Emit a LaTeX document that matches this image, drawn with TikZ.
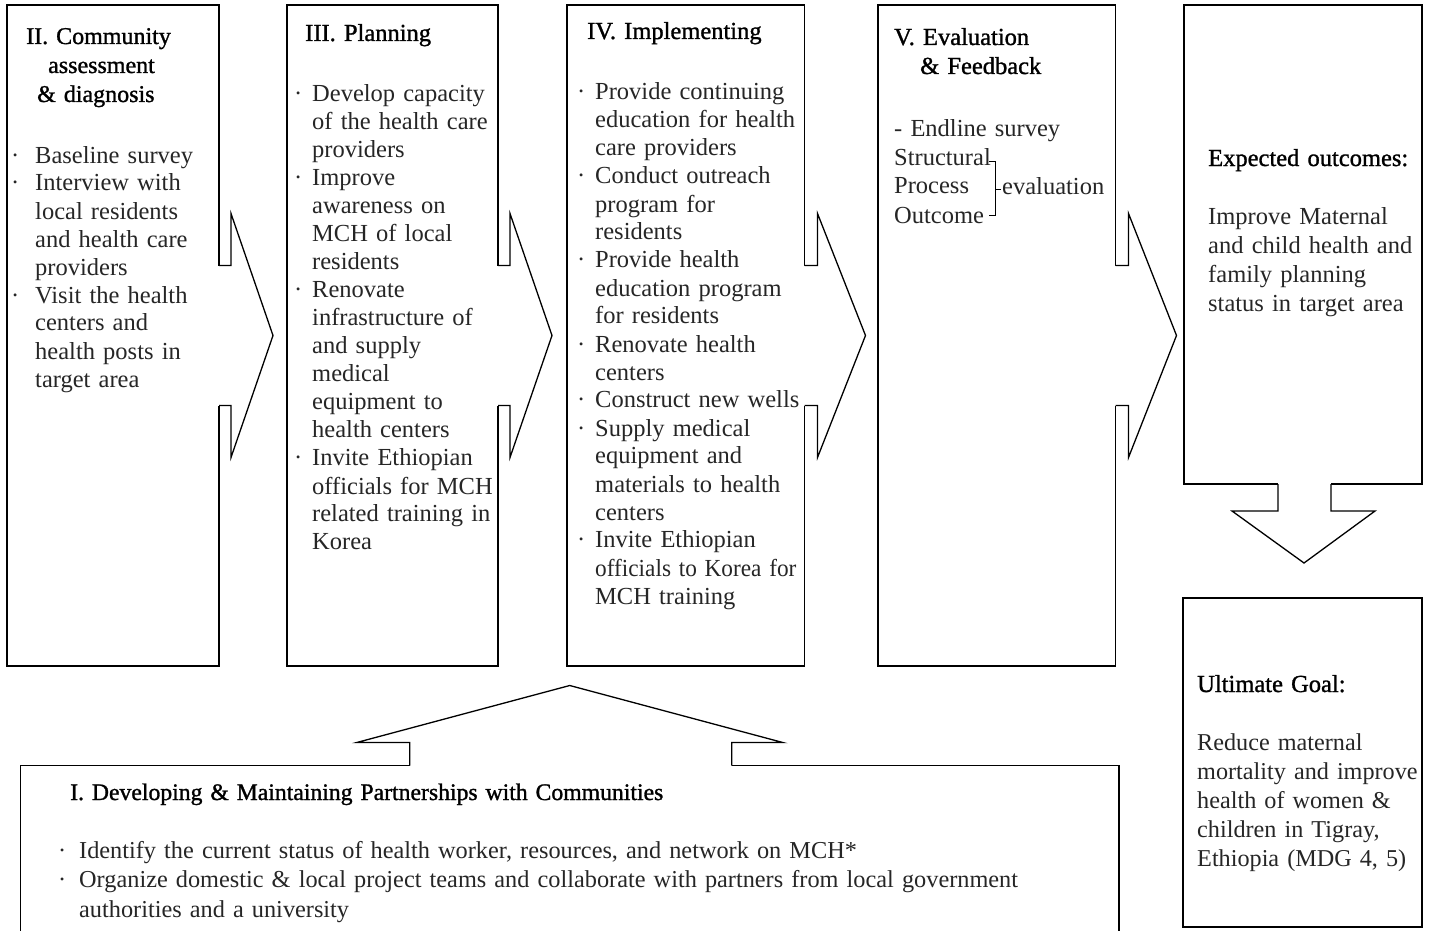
\documentclass[tikz,border=0pt]{standalone}
\usepackage{fontspec}
\setmainfont{Liberation Serif}
\newfontfamily\tfont{Liberation Serif}[FakeBold=1.2]
\usetikzlibrary{calc}
\newcommand{\bitem}[1][18pt]{\makebox[#1][l]{·}}
\newcommand{\bcont}[1][18pt]{\hspace*{#1}}
\newcommand{\rarr}[3]{%
  \fill[white] ($(#1.east)+(-2,-70)$) rectangle ($(#1.east)+(2,70)$);
  \filldraw[shape line] ($(#1.east)+(0,-70)$) -- ++(#2,0) -- ++(0,-52)
     -- ($(#1.east)+(#3,0)$) -- ($(#1.east)+(#2,122)$) -- ++(0,-52) -- ++(-#2,0);
}
\tikzset{
  box/.style={draw, line width=1.3pt, fill=white, outer sep=0pt, inner sep=0pt},
  shape line/.style={draw, fill=white, line width=1.3pt, line join=miter},
  ttl/.style={anchor=base west, inner sep=0pt, text width=400pt, align=left,
    font=\tfont\fontsize{24.5}{29}\selectfont},
  body/.style={anchor=base west, inner sep=0pt, text width=400pt, align=left,
    text=black!85, font=\fontsize{24.5}{28}\selectfont},
}
\begin{document}
\begin{tikzpicture}[x=1pt,y=-1pt]
\useasboundingbox[fill=white] (0,0) rectangle (1429,931);
% boxes
\node[box, minimum width=212pt, minimum height=661pt] (b2) at (113,335.5) {};
\node[box, minimum width=211pt, minimum height=661pt] (b3) at (392.5,335.5) {};
\node[box, minimum width=237.5pt, minimum height=661pt] (b4) at (685.75,335.5) {};
\node[box, minimum width=237.5pt, minimum height=661pt] (b5) at (996.75,335.5) {};
\node[box, minimum width=238pt, minimum height=479pt] (ex) at (1303,244.5) {};
\node[box, minimum width=239pt, minimum height=329pt] (ug) at (1302.5,762.5) {};
\node[box, minimum width=1098.5pt, minimum height=180pt] (b1) at (569.75,855.5) {};
% right arrows
\rarr{b2}{12}{54}
\rarr{b3}{12}{54}
\rarr{b4}{13}{61}
\rarr{b5}{13}{61}
% down arrow
\fill[white] ($(ex.south)+(-25,-2)$) rectangle ($(ex.south)+(28,2)$);
\filldraw[shape line] ($(ex.south)+(-25,0)$) -- ++(0,27) -- ($(ex.south)+(-71,27)$)
  -- ($(ex.south)+(1,79)$) -- ($(ex.south)+(72,27)$) -- ($(ex.south)+(28,27)$) -- ++(0,-27);
% up arrow
\fill[white] ($(b1.north)+(-160,-2)$) rectangle ($(b1.north)+(162,2)$);
\filldraw[shape line] ($(b1.north)+(-160,0)$) -- ++(0,-23) -- ($(b1.north)+(-213,-23)$)
  -- ($(b1.north)+(0,-80)$) -- ($(b1.north)+(213,-23)$) -- ($(b1.north)+(162,-23)$) -- ++(0,23);
% Box II
\node[ttl, font=\tfont\fontsize{24}{29}\selectfont] (t2) at (26,44) {II. Community\\\hspace*{22pt}assessment\\\hspace*{11pt}\& diagnosis};
\node[body] (x2) at (11,163) {\bitem[24pt]Baseline survey\\
\bitem[24pt]Interview with\\
\bcont[24pt]local residents\\
\bcont[24pt]and health care\\
\bcont[24pt]providers\\
\bitem[24pt]Visit the health\\
\bcont[24pt]centers and\\
\bcont[24pt]health posts in\\
\bcont[24pt]target area};
% Box III
\node[ttl] (t3) at (305,41) {III. Planning};
\node[body] (x3) at (294,102) {\bitem Develop capacity\\
\bcont of the health care\\
\bcont providers\\
\bitem Improve\\
\bcont awareness on\\
\bcont MCH of local\\
\bcont residents\\
\bitem Renovate\\
\bcont infrastructure of\\
\bcont and supply\\
\bcont medical\\
\bcont equipment to\\
\bcont health centers\\
\bitem Invite Ethiopian\\
\bcont officials for MCH\\
\bcont related training in\\
\bcont Korea};
% Box IV
\node[ttl] (t4) at (587,39) {IV. Implementing};
\node[body] (x4) at (577,100) {\bitem Provide continuing\\
\bcont education for health\\
\bcont care providers\\
\bitem Conduct outreach\\
\bcont program for\\
\bcont residents\\
\bitem Provide health\\
\bcont education program\\
\bcont for residents\\
\bitem Renovate health\\
\bcont centers\\
\bitem Construct new wells\\
\bitem Supply medical\\
\bcont equipment and\\
\bcont materials to health\\
\bcont centers\\
\bitem Invite Ethiopian\\
\bcont \scalebox{0.95}[1]{officials to Korea for}\\
\bcont MCH training};
% Box V
\node[ttl] (t5) at (894,45) {V. Evaluation\\\hspace*{26pt}\& Feedback};
\node[body, font=\fontsize{24.5}{29}\selectfont] (x5) at (894,136) {- Endline survey\\Structural\\Process\\Outcome};
\node[body] (ev) at (1002,194) {evaluation};
\coordinate (bt) at (989,161);
\coordinate (bb) at (989,215);
\coordinate (bm) at (1001,189);
\draw[line width=1pt] (bt) -- ++(6,0) |- (bb);
\draw[line width=1pt] (bm) -- ++(-6,0);
% Expected
\node[ttl] (te) at (1208,166) {Expected outcomes:};
\node[body, font=\fontsize{24.5}{29}\selectfont] (xe) at (1208,224) {Improve Maternal\\and child health and\\family planning\\status in target area};
% Ultimate
\node[ttl] (tu) at (1197,692) {Ultimate Goal:};
\node[body, font=\fontsize{24.2}{29.2}\selectfont] (xu) at (1197,750) {Reduce maternal\\mortality and improve\\health of women \&\\children in Tigray,\\Ethiopia (MDG 4, 5)};
% Box I
\node[ttl, text width=1000pt, font=\tfont\fontsize{23.7}{29}\selectfont] (t1) at (70,800) {I. Developing \& Maintaining Partnerships with Communities};
\node[body, text width=1100pt, font=\fontsize{24.3}{29.5}\selectfont] (x1) at (58,858) {\bitem[21pt]Identify the current status of health worker, resources, and network on MCH*\\
\bitem[21pt]Organize domestic \& local project teams and collaborate with partners from local government\\
\bcont[21pt]authorities and a university};
\end{tikzpicture}
\end{document}
